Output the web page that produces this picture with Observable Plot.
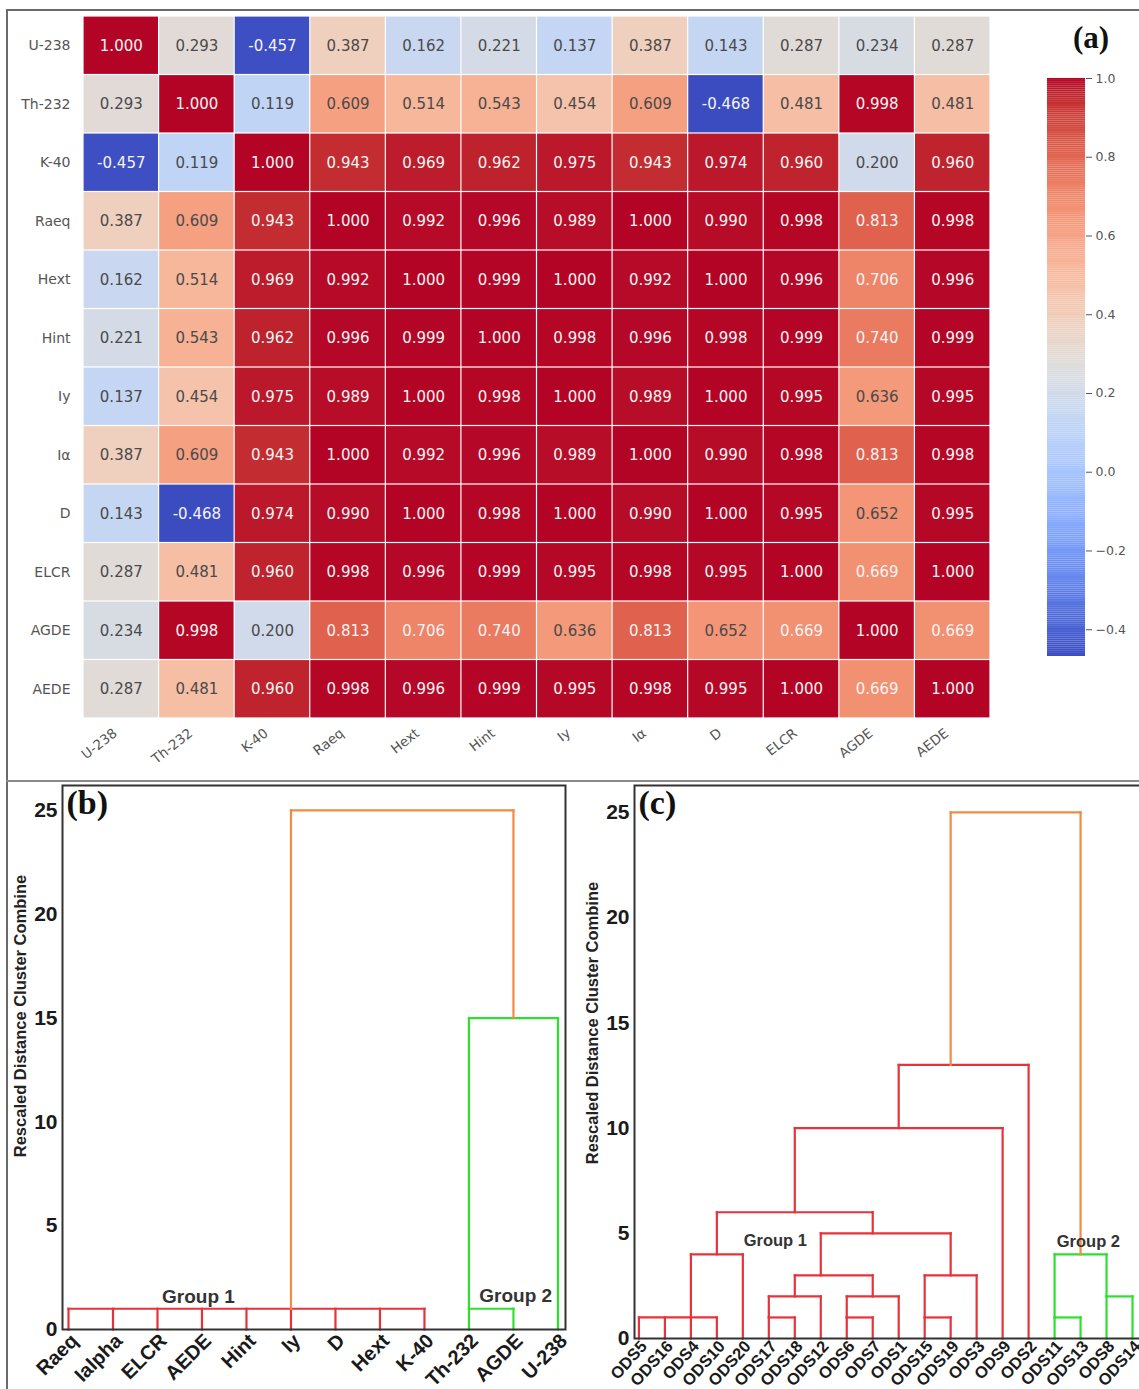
<!DOCTYPE html>
<html><head><meta charset="utf-8">
<script src="https://cdn.jsdelivr.net/npm/d3@7"></script>
<script src="https://cdn.jsdelivr.net/npm/@observablehq/plot@0.6"></script>
<style>
html,body{margin:0;padding:0;background:#fff;overflow:hidden;}
#root{position:relative;width:1139px;height:1389px;overflow:hidden;background:#fff;}
.abs{position:absolute;}
#frameA{left:6px;top:9px;width:1140px;height:1390px;border-left:2px solid #6a6a6a;border-top:2px solid #6a6a6a;}
#sep{left:6px;top:780px;width:1140px;height:0;border-top:2px solid #8a8a8a;}
#labA{left:1073px;top:20px;font:bold 31px "Liberation Serif","Times New Roman",serif;color:#111;}
.ytitle{position:absolute;white-space:nowrap;transform:translate(-50%,-50%) rotate(-90deg);font:bold 16.5px "Liberation Sans",Arial,sans-serif;color:#222;}
</style></head><body><div id="root">
<div class="abs" id="frameA"></div>
<div class="abs" id="sep"></div>
<div class="abs" id="labA">(a)</div>
<div class="ytitle" style="left:20px;top:1016px;">Rescaled Distance Cluster Combine</div>
<div class="ytitle" style="left:592px;top:1023px;">Rescaled Distance Cluster Combine</div>
</div>
<script>
// ---------- (a) correlation matrix ----------
const variables = ["U-238","Th-232","K-40","Raeq","Hext","Hint","Iy","Iα","D","ELCR","AGDE","AEDE"];
const rowU238 = [1.000,0.293,-0.457,0.387,0.162,0.221,0.137,0.387,0.143,0.287,0.234,0.287];
const rowTh232 = [0.293,1.000,0.119,0.609,0.514,0.543,0.454,0.609,-0.468,0.481,0.998,0.481];
const rowK40 = [-0.457,0.119,1.000,0.943,0.969,0.962,0.975,0.943,0.974,0.960,0.200,0.960];
const rowRaeq = [0.387,0.609,0.943,1.000,0.992,0.996,0.989,1.000,0.990,0.998,0.813,0.998];
const rowHext = [0.162,0.514,0.969,0.992,1.000,0.999,1.000,0.992,1.000,0.996,0.706,0.996];
const rowHint = [0.221,0.543,0.962,0.996,0.999,1.000,0.998,0.996,0.998,0.999,0.740,0.999];
const rowIy = [0.137,0.454,0.975,0.989,1.000,0.998,1.000,0.989,1.000,0.995,0.636,0.995];
const rowIa = [0.387,0.609,0.943,1.000,0.992,0.996,0.989,1.000,0.990,0.998,0.813,0.998];
const rowD = [0.143,-0.468,0.974,0.990,1.000,0.998,1.000,0.990,1.000,0.995,0.652,0.995];
const rowELCR = [0.287,0.481,0.960,0.998,0.996,0.999,0.995,0.998,0.995,1.000,0.669,1.000];
const rowAGDE = [0.234,0.998,0.200,0.813,0.706,0.740,0.636,0.813,0.652,0.669,1.000,0.669];
const rowAEDE = [0.287,0.481,0.960,0.998,0.996,0.999,0.995,0.998,0.995,1.000,0.669,1.000];
const colorbarTicks = [-0.4,-0.2,0.0,0.2,0.4,0.6,0.8,1.0];

// ---------- (b) variable dendrogram ----------
const leavesB = ["Raeq","Ialpha","ELCR","AEDE","Hint","Iy","D","Hext","K-40","Th-232","AGDE","U-238"];
const mergesB = [
  {id:"G1", children:["Raeq","Ialpha","ELCR","AEDE","Hint","Iy","D","Hext","K-40"], height:1, at:"Iy", group:"Group 1"},
  {id:"G2a", children:["Th-232","AGDE"], height:1, at:"Th-232", group:"Group 2"},
  {id:"G2", children:["G2a","U-238"], height:15, at:"AGDE", group:"Group 2"},
  {id:"Top", children:["G1","G2"], height:25, at:"AGDE", group:"Top"}
];
// ---------- (c) sample dendrogram ----------
const leavesC = ["ODS5","ODS16","ODS4","ODS10","ODS20","ODS17","ODS18","ODS12","ODS6","ODS7","ODS1","ODS15","ODS19","ODS3","ODS9","ODS2","ODS11","ODS13","ODS8","ODS14"];
const mergesC = [
  {id:"A", children:["ODS5","ODS16","ODS4","ODS10"], height:1, at:"ODS4", group:"Group 1"},
  {id:"B", children:["A","ODS20"], height:4, at:"ODS10", group:"Group 1"},
  {id:"C", children:["ODS17","ODS18"], height:1, at:"ODS17", group:"Group 1"},
  {id:"D", children:["C","ODS12"], height:2, at:"ODS18", group:"Group 1"},
  {id:"E", children:["ODS6","ODS7"], height:1, at:"ODS6", group:"Group 1"},
  {id:"F", children:["E","ODS1"], height:2, at:"ODS7", group:"Group 1"},
  {id:"G", children:["D","F"], height:3, at:"ODS12", group:"Group 1"},
  {id:"H", children:["ODS15","ODS19"], height:1, at:"ODS15", group:"Group 1"},
  {id:"I", children:["H","ODS3"], height:3, at:"ODS19", group:"Group 1"},
  {id:"J", children:["G","I"], height:5, at:"ODS7", group:"Group 1"},
  {id:"K", children:["B","J"], height:6, at:"ODS18", group:"Group 1"},
  {id:"L", children:["K","ODS9"], height:10, at:"ODS1", group:"Group 1"},
  {id:"M", children:["L","ODS2"], height:13, at:"ODS19", group:"Group 1"},
  {id:"N", children:["ODS11","ODS13"], height:1, at:"ODS11", group:"Group 2"},
  {id:"O", children:["ODS8","ODS14"], height:2, at:"ODS8", group:"Group 2"},
  {id:"P", children:["N","O"], height:4, at:"ODS13", group:"Group 2"},
  {id:"Q", children:["M","P"], height:25, at:"ODS13", group:"Top"}
];
const distanceTicks = [0,5,10,15,20,25];

// ---------- styles ----------
const coolwarmStops = ["#3b4cc0","#445acc","#4d68d7","#5775e1","#6282ea","#6c8ef1","#779af7","#82a5fb","#8db0fe","#98b9ff","#a3c2ff","#aec9fd","#b8d0f9","#c2d5f4","#ccd9ee","#d5dbe6","#dddddd","#e5d8d1","#ecd3c5","#f1ccb8","#f5c4ac","#f7bba0","#f7b194","#f7a689","#f49a7b","#f18d70","#ec7f63","#e57059","#de604d","#d55042","#cb3e38","#c0282f","#b40426"];
const coolwarm = d3.piecewise(d3.interpolateRgb, coolwarmStops);
const allRows = [rowU238,rowTh232,rowK40,rowRaeq,rowHext,rowHint,rowIy,rowIa,rowD,rowELCR,rowAGDE,rowAEDE];
const cells = [];
allRows.forEach((row,i)=>row.forEach((v,j)=>cells.push({row:variables[i], col:variables[j], v})));
const vmin = d3.min(cells,d=>d.v), vmax = d3.max(cells,d=>d.v);
const colorOpts = {type:"linear", domain:[vmin,vmax], interpolate:coolwarm};
const cscale = Plot.scale({color:colorOpts});
function lum(c){const r=d3.rgb(c);const f=x=>{x/=255;return x<=0.03928?x/12.92:Math.pow((x+0.055)/1.055,2.4);};return 0.2126*f(r.r)+0.7152*f(r.g)+0.0722*f(r.b);}
const isDark = d => lum(cscale.apply(d.v)) < 0.408;

const root = document.getElementById("root");
function place(el,left,top){el.style.position="absolute";el.style.left=left+"px";el.style.top=top+"px";root.appendChild(el);}

const heat = Plot.plot({
  width:1000, height:781, marginLeft:83, marginRight:10, marginTop:16, marginBottom:63,
  x:{domain:variables, padding:0, round:false, label:null},
  y:{domain:variables, padding:0, round:false, label:null},
  color:colorOpts,
  style:{fontFamily:"'DejaVu Sans', sans-serif", background:"transparent", overflow:"visible"},
  marks:[
    Plot.cell(cells,{x:"col",y:"row",fill:"v",inset:0.6}),
    Plot.text(cells.filter(isDark),{x:"col",y:"row",text:d=>d.v.toFixed(3),fill:"#f4f4f4",fontSize:15}),
    Plot.text(cells.filter(d=>!isDark(d)),{x:"col",y:"row",text:d=>d.v.toFixed(3),fill:"#4a4a4a",fontSize:15}),
    Plot.axisX({tickSize:0, tickRotate:-38, tickPadding:13, dx:-6, fontSize:13.5, fill:"#555", label:null}),
    Plot.axisY({tickSize:0, tickPadding:13, fontSize:14, fill:"#555", label:null})
  ]
});
place(heat,0,0);

const nSteps = 300, step = (vmax-vmin)/nSteps;
const cbData = d3.range(nSteps).map(i=>vmin+i*step);
const cbar = Plot.plot({
  width:139, height:781, marginLeft:47, marginRight:54, marginTop:78, marginBottom:125,
  x:{domain:[0,1], axis:null},
  y:{domain:[vmin,vmax], label:null},
  color:colorOpts,
  style:{fontFamily:"'DejaVu Sans', sans-serif", background:"transparent"},
  marks:[
    Plot.rect(cbData,{x1:()=>0,x2:()=>1,y1:d=>d,y2:d=>d+step*1.02,fill:d=>d+step/2}),
    Plot.axisY({anchor:"right", ticks:colorbarTicks, tickFormat:d3.format(".1f"), tickSize:6, tickPadding:4, fontSize:12.5, fill:"#555", stroke:"#555", label:null})
  ]
});
place(cbar,1000,0);

// ---------- dendrogram builder ----------
const lineColors = {"Group 1":"#e8323a","Group 2":"#2ee02e","Top":"#f28a45"};
function segmentsOf(leaves, merges){
  const nodes = new Map();
  leaves.forEach((l,i)=>nodes.set(l,{pos:i,h:0}));
  const segs = [];
  for (const m of merges){
    const kids = m.children.map(c=>nodes.get(c));
    for (const k of kids) segs.push({x1:k.pos,y1:k.h,x2:k.pos,y2:m.height,group:m.group});
    segs.push({x1:d3.min(kids,k=>k.pos),y1:m.height,x2:d3.max(kids,k=>k.pos),y2:m.height,group:m.group});
    nodes.set(m.id,{pos:leaves.indexOf(m.at),h:m.height});
  }
  return segs;
}
function dendro(o){
  const segs = segmentsOf(o.leaves,o.merges);
  const order = ["Group 1","Group 2","Top"];
  return Plot.plot({
    width:o.width, height:o.height, marginLeft:o.mL, marginRight:o.mR, marginTop:o.mT, marginBottom:o.mB,
    x:{domain:o.xDomain, label:null},
    y:{domain:o.yDomain, label:null},
    color:{type:"ordinal", domain:order, range:order.map(g=>lineColors[g])},
    style:{fontFamily:"'Liberation Sans', Arial, sans-serif", background:"transparent", overflow:"visible"},
    marks:[
      Plot.link(segs,{x1:"x1",y1:"y1",x2:"x2",y2:"y2",stroke:"group",strokeWidth:2.2,strokeLinecap:"square"}),
      Plot.frame({stroke:"#333",strokeWidth:2}),
      Plot.axisY({ticks:distanceTicks, tickSize:0, tickPadding:5, fontSize:21, fontWeight:"bold", fill:"#1a1a1a", label:null}),
      Plot.axisX({ticks:d3.range(o.leaves.length), tickFormat:i=>o.leaves[i], tickRotate:o.rotate, tickSize:0, tickPadding:o.leafPad, dx:o.leafDx, dy:o.leafDy, fontSize:o.leafFont, fontWeight:"bold", fill:"#1a1a1a", label:null}),
      Plot.text([o.panel],{frameAnchor:"top-left", dx:4, dy:4, lineAnchor:"top", textAnchor:"start", fontSize:34, fontWeight:"bold", fontFamily:"'Liberation Serif','Times New Roman',serif", fill:"#111"}),
      Plot.text(o.groupLabels,{x:"x",y:"y",text:"label",fontSize:o.groupFont,fontWeight:"bold",fill:"#333"})
    ]
  });
}
const panelB = dendro({leaves:leavesB, merges:mergesB, width:572, height:608, mL:62, mR:7, mT:4, mB:60,
  xDomain:[-0.135,11.17], yDomain:[0,26.2], rotate:-45, leafFont:20, leafPad:5, leafDx:6, leafDy:3, panel:"(b)", groupFont:19,
  groupLabels:[{label:"Group 1",x:2.92,y:1.55},{label:"Group 2",x:10.05,y:1.6}]});
place(panelB,0,781);
const panelC = dendro({leaves:leavesC, merges:mergesC, width:580, height:608, mL:62, mR:7, mT:4, mB:51,
  xDomain:[-0.17,19.5], yDomain:[0,26.28], rotate:-48, leafFont:16.5, leafPad:4, leafDx:5, leafDy:1, panel:"(c)", groupFont:16.5,
  groupLabels:[{label:"Group 1",x:5.25,y:4.65},{label:"Group 2",x:17.3,y:4.6}]});
place(panelC,572,781);
</script>
</body></html>
